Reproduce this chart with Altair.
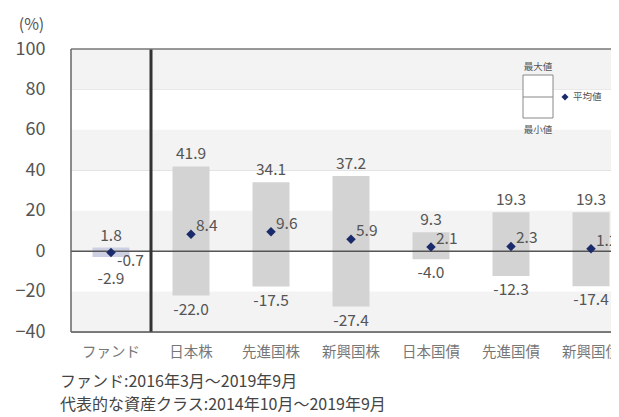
import altair as alt
import pandas as pd

categories = ["ファンド", "日本株", "先進国株", "新興国株", "日本国債", "先進国債", "新興国債"]
max_vals = [1.8, 41.9, 34.1, 37.2, 9.3, 19.3, 19.3]
min_vals = [-2.9, -22.0, -17.5, -27.4, -4.0, -12.3, -17.4]
avg_vals = [-0.7, 8.4, 9.6, 5.9, 2.1, 2.3, 1.2]
band_lo = [80, 40, 0, -40]
band_hi = [100, 60, 20, -20]
y_ticks = [100, 80, 60, 40, 20, 0, -20, -40]
notes = ["ファンド:2016年3月～2019年9月", "代表的な資産クラス:2014年10月～2019年9月"]

FONT = "Noto Sans CJK JP"
df = pd.DataFrame({"cat": categories, "max": max_vals, "min": min_vals, "avg": avg_vals})
df["maxl"] = [f"{v:.1f}" for v in max_vals]
df["minl"] = [f"{v:.1f}" for v in min_vals]
df["avgl"] = [f"{v:.1f}" for v in avg_vals]
df["kind"] = ["fund"] + ["asset"] * 6
fund = df[df["kind"] == "fund"]
assets = df[df["kind"] == "asset"]

W, H = 540, 283
xs = alt.Scale(domain=categories, paddingInner=0, paddingOuter=0, range=[0, 560])
ys = alt.Scale(domain=[-40, 100], nice=False)
X = alt.X("cat:N", scale=xs, sort=categories,
          axis=alt.Axis(title=None, labelAngle=0, ticks=False, domain=False,
                        labelFont=FONT, labelFontSize=14.5, labelColor="#777",
                        labelPadding=13))
Y = alt.Y("max:Q", scale=ys,
          axis=alt.Axis(values=y_ticks, title="(%)", titleAngle=0, titleX=-40, titleY=-25,
                        titleFont=FONT, titleFontSize=16, titleFontWeight="normal",
                        titleColor="#555", titleAlign="center", titleBaseline="middle",
                        labelFont=FONT, labelFontSize=18, labelColor="#555",
                        labelPadding=26, ticks=False, domain=False,
                        grid=True, gridColor="#dedede", gridWidth=1))

def cx():
    return alt.X("cat:N", scale=xs, sort=categories)

bands = alt.Chart(pd.DataFrame({"lo": band_lo, "hi": band_hi})).mark_rect(
    color="#f3f3f3").encode(y=alt.Y("lo:Q", scale=ys), y2="hi:Q")

base = alt.Chart(df)
axes_layer = base.mark_point(opacity=0).encode(x=X, y=Y)

bars_assets = alt.Chart(assets).mark_bar(size=37, color="#d3d3d3").encode(
    x=cx(), y=alt.Y("max:Q", scale=ys), y2="min:Q")
bars_fund = alt.Chart(fund).mark_bar(size=37, color="#cdd0e3").encode(
    x=cx(), y=alt.Y("max:Q", scale=ys), y2="min:Q")

zero = alt.Chart(pd.DataFrame({"z": [0]})).mark_rule(color="#555", strokeWidth=1.5).encode(
    y=alt.Y("z:Q", scale=ys))

sep = alt.Chart(pd.DataFrame({"cat": [categories[1]]})).mark_rule(
    color="#333", strokeWidth=3).encode(
    x=alt.X("cat:N", scale=xs, sort=categories, bandPosition=0))

frame_top = alt.Chart(pd.DataFrame({"a": [0]})).mark_rule(color="#777", strokeWidth=1.5).encode(
    x=alt.value(0), x2=alt.value(W), y=alt.value(0))
frame_bot = alt.Chart(pd.DataFrame({"a": [0]})).mark_rule(color="#555", strokeWidth=1.5).encode(
    x=alt.value(0), x2=alt.value(W), y=alt.value(H))
frame_left = alt.Chart(pd.DataFrame({"a": [0]})).mark_rule(color="#666", strokeWidth=1.5).encode(
    x=alt.value(0), y=alt.value(0), y2=alt.value(H))

diam = base.mark_point(shape="diamond", filled=True, size=90, color="#1b2a6b", opacity=1).encode(
    x=cx(), y=alt.Y("avg:Q", scale=ys))

tx = dict(font=FONT, fontSize=15.5, color="#555")
max_t = alt.Chart(assets).mark_text(dy=-12, **tx).encode(
    x=cx(), y=alt.Y("max:Q", scale=ys), text="maxl:N")
min_t = alt.Chart(assets).mark_text(dy=14, **tx).encode(
    x=cx(), y=alt.Y("min:Q", scale=ys), text="minl:N")
avg_t = alt.Chart(assets).mark_text(dx=5, dy=-8, align="left", **tx).encode(
    x=cx(), y=alt.Y("avg:Q", scale=ys), text="avgl:N")
fmax_t = alt.Chart(fund).mark_text(dy=-12, **tx).encode(
    x=cx(), y=alt.Y("max:Q", scale=ys), text="maxl:N")
fmin_t = alt.Chart(fund).mark_text(dy=22, **tx).encode(
    x=cx(), y=alt.Y("min:Q", scale=ys), text="minl:N")
favg_t = alt.Chart(fund).mark_text(dx=6, dy=8, align="left", **tx).encode(
    x=cx(), y=alt.Y("avg:Q", scale=ys), text="avgl:N")

# legend graphic
leg_box = alt.Chart(pd.DataFrame({"a": [0]})).mark_rect(
    fill="white", stroke="#888", strokeWidth=1).encode(
    x=alt.value(452), x2=alt.value(482), y=alt.value(26), y2=alt.value(69))
leg_mid = alt.Chart(pd.DataFrame({"a": [0]})).mark_rule(color="#888").encode(
    x=alt.value(452), x2=alt.value(482), y=alt.value(48))
leg_diam = alt.Chart(pd.DataFrame({"a": [0]})).mark_point(
    shape="diamond", filled=True, size=50, color="#1b2a6b", opacity=1).encode(
    x=alt.value(494), y=alt.value(48))
lt = dict(font=FONT, fontSize=9.5, color="#555")
leg_max = alt.Chart(pd.DataFrame({"t": ["最大値"]})).mark_text(**lt).encode(
    x=alt.value(467), y=alt.value(18), text="t:N")
leg_min = alt.Chart(pd.DataFrame({"t": ["最小値"]})).mark_text(**lt).encode(
    x=alt.value(467), y=alt.value(81), text="t:N")
leg_avg = alt.Chart(pd.DataFrame({"t": ["平均値"]})).mark_text(align="left", **lt).encode(
    x=alt.value(502), y=alt.value(48), text="t:N")

nt = dict(align="left", font=FONT, fontSize=16, color="#444")
note1 = alt.Chart(pd.DataFrame({"t": [notes[0]]})).mark_text(**nt).encode(
    x=alt.value(-11), y=alt.value(333), text="t:N")
note2 = alt.Chart(pd.DataFrame({"t": [notes[1]]})).mark_text(**nt).encode(
    x=alt.value(-11), y=alt.value(356), text="t:N")

chart = alt.layer(
    bands, axes_layer, bars_assets, bars_fund, zero, sep, frame_top, frame_bot, frame_left, diam,
    max_t, min_t, avg_t, fmax_t, fmin_t, favg_t,
    leg_box, leg_mid, leg_diam, leg_max, leg_min, leg_avg, note1, note2
).properties(
    width=W, height=H,
    autosize=alt.AutoSizeParams(type="none"),
    padding={"left": 63, "top": 41, "right": 0, "bottom": 84},
    background="white",
).configure_view(stroke=None)

chart.save("out.html", embed_options={"renderer": "svg", "actions": False})
